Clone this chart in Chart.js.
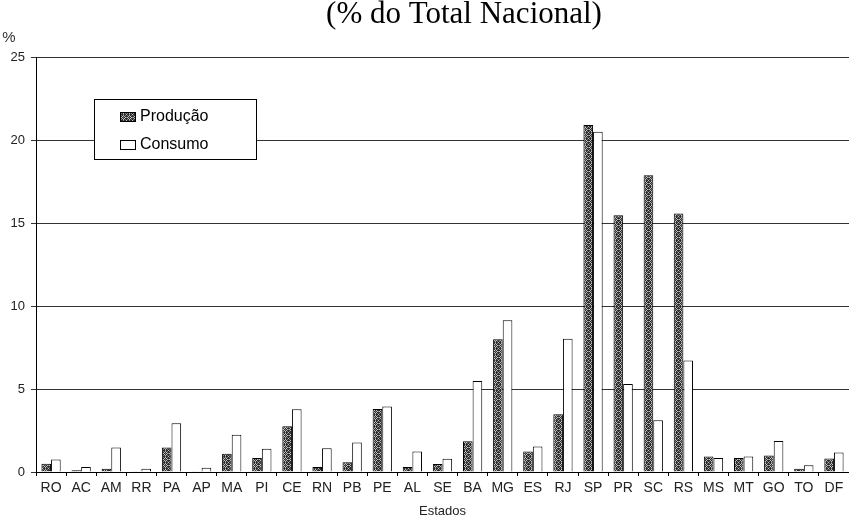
<!DOCTYPE html>
<html>
<head>
<meta charset="utf-8">
<script src="https://cdn.jsdelivr.net/npm/chart.js@4"></script>
<style>
  body { margin: 0; background: #fff; }
  canvas { display: block; }
</style>
</head>
<body>
<canvas id="chart" width="849" height="516"></canvas>
<script>
// ---- data ----
const states = ['RO', 'AC', 'AM', 'RR', 'PA', 'AP', 'MA', 'PI', 'CE', 'RN', 'PB', 'PE', 'AL', 'SE',
    'BA', 'MG', 'ES', 'RJ', 'SP', 'PR', 'SC', 'RS', 'MS', 'MT', 'GO', 'TO', 'DF'];
const producao = [0.5, 0.1, 0.2, 0.05, 1.48, 0.05, 1.1, 0.84, 2.75, 0.3, 0.58, 3.8, 0.3, 0.48,
    1.85, 8.0, 1.23, 3.48, 20.9, 15.46, 17.87, 15.57, 0.94, 0.85, 1.0, 0.2, 0.82];
const consumo = [0.76, 0.3, 1.48, 0.2, 2.93, 0.25, 2.25, 1.4, 3.78, 1.43, 1.77, 3.94, 1.23, 0.8,
    5.48, 9.14, 1.53, 8.03, 20.5, 5.3, 3.11, 6.71, 0.85, 0.94, 1.87, 0.4, 1.18];
const seriesLabels = ['Produção', 'Consumo'];
const yTicks = [0, 5, 10, 15, 20, 25];
const titleText = '(% do Total Nacional)';
const unitText = '%';
const xTitle = 'Estados';

// dark cross-hatch fill used for the "Produção" bars
function makePattern() {
    const c = document.createElement('canvas');
    c.width = 6;
    c.height = 6;
    const g = c.getContext('2d');
    g.fillStyle = '#2c2c2c';
    g.fillRect(0, 0, 6, 6);
    g.fillStyle = '#c4c4c4';
    [[3, 1], [2, 2], [4, 2], [1, 3], [5, 3], [2, 4], [4, 4], [3, 5], [0, 0]].forEach(p => g.fillRect(p[0], p[1], 1, 1));
    g.fillStyle = '#7a7a7a';
    [[3, 0], [0, 3], [3, 3], [1, 1], [5, 5], [1, 5], [5, 1]].forEach(p => g.fillRect(p[0], p[1], 1, 1));
    return g.createPattern(c, 'repeat');
}
const hatch = makePattern();

// title, unit label and legend box
const decorations = {
    id: 'decorations',
    afterDraw(chart) {
        const ctx = chart.ctx;
        ctx.save();
        ctx.fillStyle = '#000';
        ctx.textAlign = 'center';
        ctx.textBaseline = 'alphabetic';
        ctx.font = '31px "Liberation Serif"';
        ctx.fillText(titleText, 464, 23);

        ctx.font = '15px "Liberation Sans"';
        ctx.fillStyle = '#333';
        ctx.fillText(unitText, 9, 42);

        // legend
        ctx.fillStyle = '#fff';
        ctx.fillRect(94, 99, 163, 60);
        ctx.strokeStyle = '#000';
        ctx.lineWidth = 1;
        ctx.strokeRect(94.5, 99.5, 162, 60);

        const ds = chart.data.datasets;
        const rows = [112, 140];
        ds.forEach((d, i) => {
            ctx.fillStyle = d.backgroundColor;
            ctx.fillRect(120, rows[i], 16, 10);
            ctx.strokeStyle = '#000';
            ctx.strokeRect(120.5, rows[i] + 0.5, 15, 9);
            ctx.fillStyle = '#000';
            ctx.textAlign = 'left';
            ctx.textBaseline = 'middle';
            ctx.font = '16px "Liberation Sans"';
            ctx.fillText(d.label, 140, rows[i] + 5);
        });
        ctx.restore();
    }
};

new Chart(document.getElementById('chart'), {
    type: 'bar',
    data: {
        labels: states,
        datasets: [{
            label: seriesLabels[0],
            data: producao,
            backgroundColor: hatch,
            borderColor: '#000',
            borderWidth: 1,
            categoryPercentage: 0.64,
            barPercentage: 1.0
        }, {
            label: seriesLabels[1],
            data: consumo,
            backgroundColor: '#fff',
            borderColor: '#000',
            borderWidth: 1,
            categoryPercentage: 0.64,
            barPercentage: 1.0
        }]
    },
    options: {
        responsive: false,
        animation: false,
        devicePixelRatio: 1,
        layout: { padding: { top: 57, right: 0, left: 0, bottom: 0 } },
        plugins: {
            legend: { display: false },
            title: { display: false },
            tooltip: { enabled: false }
        },
        scales: {
            x: {
                grid: {
                    display: true,
                    drawOnChartArea: false,
                    drawTicks: true,
                    tickLength: 4,
                    color: '#000'
                },
                border: { display: true, color: '#000', width: 1 },
                ticks: {
                    autoSkip: false,
                    maxRotation: 0,
                    padding: 4,
                    color: '#222',
                    font: { family: '"Liberation Sans"', size: 14 }
                },
                title: {
                    display: true,
                    text: xTitle,
                    color: '#222',
                    font: { family: '"Liberation Sans"', size: 13 },
                    padding: { top: 0, bottom: -3 }
                },
                afterFit(scale) { scale.height = 44; }
            },
            y: {
                min: yTicks[0],
                max: yTicks[yTicks.length - 1],
                afterBuildTicks(scale) { scale.ticks = yTicks.map(v => ({ value: v })); },
                grid: {
                    color: '#333',
                    lineWidth: 1,
                    drawTicks: true,
                    tickLength: 5
                },
                border: { display: true, color: '#000', width: 1 },
                ticks: {
                    padding: 6,
                    color: '#222',
                    font: { family: '"Liberation Sans"', size: 13 }
                },
                afterFit(scale) { scale.width = 36; }
            }
        }
    },
    plugins: [decorations]
});
</script>
</body>
</html>
